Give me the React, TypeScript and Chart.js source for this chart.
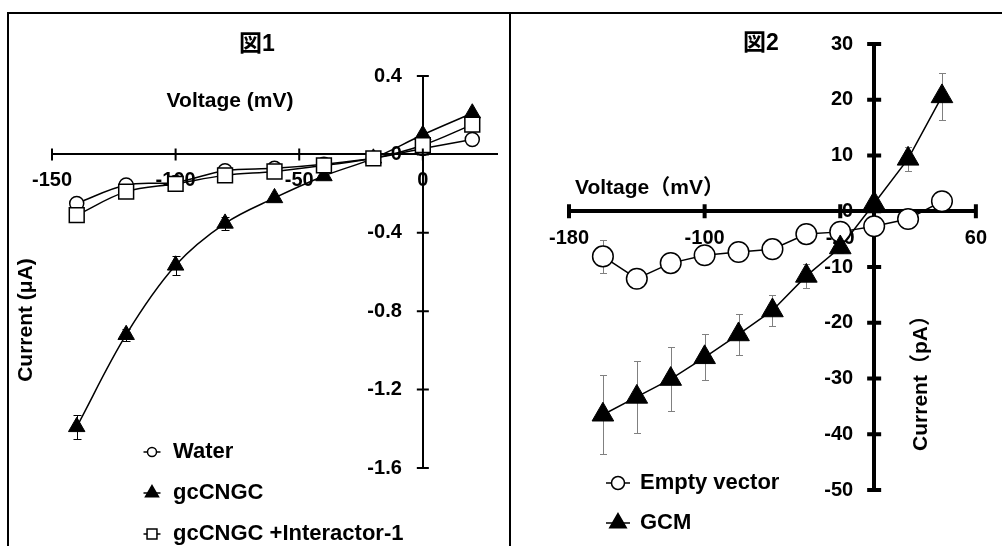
import React, { useEffect, useRef } from 'react';
import { Chart, registerables } from 'chart.js';

Chart.register(...registerables);

// ---------- Figure 1 data ----------
const leftVoltage = [-140, -120, -100, -80, -60, -40, -20, 0, 20];
const waterCurrent = [-0.25, -0.156, -0.143, -0.083, -0.071, -0.05, -0.02, 0.03, 0.076];
const gcCngcCurrent = [-1.39, -0.92, -0.566, -0.352, -0.222, -0.11, -0.02, 0.1, 0.21];
const gcCngcError = [0.06, 0.03, 0.05, 0.035, 0.015, 0.01, 0.01, 0.01, 0.01];
const interactorCurrent = [-0.31, -0.19, -0.15, -0.107, -0.087, -0.056, -0.02, 0.047, 0.152];
const leftXTicks = [-150, -100, -50, 0];
const leftYTicks = [-1.6, -1.2, -0.8, -0.4, 0, 0.4];

// ---------- Figure 2 data ----------
const rightVoltage = [-160, -140, -120, -100, -80, -60, -40, -20, 0, 20, 40];
const emptyVectorCurrent = [-8.1, -12.1, -9.3, -7.9, -7.3, -6.8, -4.1, -3.7, -2.7, -1.4, 1.8];
const emptyVectorError = [3.0, 0.8, 0.8, 0.8, 0.8, 0.8, 0.8, 0.8, 0.8, 0.8, 0.8];
const gcmCurrent = [-36.5, -33.3, -30.1, -26.2, -22.1, -17.8, -11.6, -6.5, 1.4, 9.4, 20.6];
const gcmError = [7.1, 6.4, 5.7, 4.1, 3.6, 2.8, 2.2, 1.0, 0.8, 2.2, 4.2];
const rightXTicks = [-180, -100, -20, 60];
const rightYTicks = [-50, -40, -30, -20, -10, 0, 10, 20, 30];

const FONT = '"Liberation Sans", Arial, "Noto Sans CJK JP", sans-serif';
const TICK_SIZE = 20;

const toPts = (xs: number[], ys: number[]) => xs.map((x, i) => ({ x, y: ys[i] }));

type Txt = { text: string; x: number; y: number; size: number; align?: CanvasTextAlign; rotate?: boolean };
type Leg = { x: number; half: number; textX: number; ys: number[]; radii: number[]; order: number[]; size: number };
type DecorCfg = { texts: Txt[]; legend: Leg; tickHalf: number; tickWidth: number; errorColor: string; cap: number; yGap: number };

function drawMarker(ctx: CanvasRenderingContext2D, style: string, x: number, y: number, r: number, fill: string) {
  ctx.beginPath();
  if (style === 'circle') {
    ctx.arc(x, y, r, 0, Math.PI * 2);
  } else if (style === 'triangle') {
    ctx.moveTo(x, y - r);
    ctx.lineTo(x + r * 0.866, y + r / 2);
    ctx.lineTo(x - r * 0.866, y + r / 2);
    ctx.closePath();
  } else {
    const s = r * Math.SQRT1_2;
    ctx.rect(x - s, y - s, 2 * s, 2 * s);
  }
  ctx.fillStyle = fill;
  ctx.fill();
  ctx.stroke();
}

function makeDecor(cfg: DecorCfg) {
  return {
    id: 'decor',
    beforeDatasetsDraw(chart: any) {
      const ctx: CanvasRenderingContext2D = chart.ctx;
      const xs = chart.scales.x;
      const ys = chart.scales.y;
      ctx.save();
      ctx.strokeStyle = cfg.errorColor;
      ctx.lineWidth = 1;
      chart.data.datasets.forEach((ds: any) => {
        if (!ds.errors) return;
        ds.data.forEach((p: any, i: number) => {
          const e = ds.errors[i];
          if (!e) return;
          const px = Math.round(xs.getPixelForValue(p.x)) + 0.5;
          const t = Math.round(ys.getPixelForValue(p.y + e)) + 0.5;
          const b = Math.round(ys.getPixelForValue(p.y - e)) + 0.5;
          ctx.beginPath();
          ctx.moveTo(px, t);
          ctx.lineTo(px, b);
          ctx.moveTo(px - cfg.cap, t);
          ctx.lineTo(px + cfg.cap, t);
          ctx.moveTo(px - cfg.cap, b);
          ctx.lineTo(px + cfg.cap, b);
          ctx.stroke();
        });
      });
      ctx.restore();
    },
    afterDraw(chart: any) {
      const ctx: CanvasRenderingContext2D = chart.ctx;
      const xs = chart.scales.x;
      const ys = chart.scales.y;
      const x0 = xs.getPixelForValue(0);
      const y0 = ys.getPixelForValue(0);
      ctx.save();
      // crossing tick marks
      ctx.strokeStyle = '#000';
      ctx.lineWidth = cfg.tickWidth;
      ctx.beginPath();
      xs.ticks.forEach((t: any) => {
        const px = xs.getPixelForValue(t.value);
        ctx.moveTo(px, y0 - cfg.tickHalf);
        ctx.lineTo(px, y0 + cfg.tickHalf);
      });
      ys.ticks.forEach((t: any) => {
        const py = ys.getPixelForValue(t.value);
        ctx.moveTo(x0 - cfg.tickHalf, py);
        ctx.lineTo(x0 + cfg.tickHalf, py);
      });
      ctx.stroke();
      // y tick labels, on the left side of the value axis
      ctx.fillStyle = '#000';
      ctx.font = `bold ${TICK_SIZE}px ${FONT}`;
      ctx.textAlign = 'right';
      ctx.textBaseline = 'middle';
      ys.ticks.forEach((t: any) => {
        const label = t.label !== undefined && t.label !== '' ? String(t.label) : String(t.value);
        ctx.fillText(label, x0 - cfg.yGap, ys.getPixelForValue(t.value));
      });
      // texts
      cfg.texts.forEach((t) => {
        ctx.font = `bold ${t.size}px ${FONT}`;
        ctx.textAlign = t.align || 'center';
        ctx.textBaseline = 'middle';
        if (t.rotate) {
          ctx.save();
          ctx.translate(t.x, t.y);
          ctx.rotate(-Math.PI / 2);
          ctx.fillText(t.text, 0, 0);
          ctx.restore();
        } else {
          ctx.fillText(t.text, t.x, t.y);
        }
      });
      // legend
      const L = cfg.legend;
      L.order.forEach((di, k) => {
        const ds = chart.data.datasets[di];
        const y = L.ys[k];
        ctx.strokeStyle = '#000';
        ctx.lineWidth = 1.5;
        ctx.beginPath();
        ctx.moveTo(L.x - L.half, y);
        ctx.lineTo(L.x + L.half, y);
        ctx.stroke();
        drawMarker(ctx, ds.pointStyle, L.x, y, L.radii[k], ds.pointBackgroundColor);
        ctx.fillStyle = '#000';
        ctx.font = `bold ${L.size}px ${FONT}`;
        ctx.textAlign = 'left';
        ctx.textBaseline = 'middle';
        ctx.fillText(ds.label, L.textX, y);
      });
      ctx.restore();
    },
  };
}

function scalesFor(p: {
  xMin: number; xMax: number; yMin: number; yMax: number;
  xTicks: number[]; yTicks: number[]; border: number; xPad: number;
}) {
  const font = { family: FONT, size: TICK_SIZE, weight: 'bold' as const };
  return {
    x: {
      type: 'linear' as const,
      min: p.xMin,
      max: p.xMax,
      position: { y: 0 },
      afterBuildTicks: (s: any) => { s.ticks = p.xTicks.map((v) => ({ value: v })); },
      afterFit: (s: any) => { s.height = 0; },
      grid: { drawOnChartArea: false, drawTicks: false },
      border: { color: '#000', width: p.border },
      ticks: { color: '#000', font, padding: p.xPad, autoSkip: false, maxRotation: 0, callback: (v: any) => String(v) },
    },
    y: {
      type: 'linear' as const,
      min: p.yMin,
      max: p.yMax,
      position: { x: 0 },
      afterBuildTicks: (s: any) => { s.ticks = p.yTicks.map((v) => ({ value: v })); },
      afterFit: (s: any) => { s.width = 0; },
      grid: { drawOnChartArea: false, drawTicks: false },
      border: { color: '#000', width: p.border },
      ticks: { display: false, color: '#000', font, autoSkip: false, callback: (v: any) => String(v) },
    },
  };
}

function leftConfig(): any {
  return {
    type: 'scatter',
    data: {
      datasets: [
        {
          label: 'Water', data: toPts(leftVoltage, waterCurrent), showLine: true,
          pointStyle: 'circle', pointRadius: 7, pointBackgroundColor: '#fff', pointBorderColor: '#000', pointBorderWidth: 1.5,
          borderColor: '#000', borderWidth: 1.5, tension: 0.35, order: 2, clip: false,
        },
        {
          label: 'gcCNGC', data: toPts(leftVoltage, gcCngcCurrent), showLine: true, errors: gcCngcError,
          pointStyle: 'triangle', pointRadius: 9.5, pointBackgroundColor: '#000', pointBorderColor: '#000', pointBorderWidth: 1,
          borderColor: '#000', borderWidth: 1.5, tension: 0.35, order: 1, clip: false,
        },
        {
          label: 'gcCNGC +Interactor-1', data: toPts(leftVoltage, interactorCurrent), showLine: true,
          pointStyle: 'rect', pointRadius: 10.5, pointBackgroundColor: '#fff', pointBorderColor: '#000', pointBorderWidth: 1.5,
          borderColor: '#000', borderWidth: 1.5, tension: 0.35, order: 0, clip: false,
        },
      ],
    },
    options: {
      responsive: false,
      animation: false,
      events: [],
      devicePixelRatio: 1,
      layout: { padding: { left: 52, right: 7, top: 76, bottom: 78 } },
      plugins: { legend: { display: false }, tooltip: { enabled: false } },
      scales: scalesFor({ xMin: -150, xMax: 30, yMin: -1.6, yMax: 0.4, xTicks: leftXTicks, yTicks: leftYTicks, border: 2, xPad: 14 }),
    },
    plugins: [
      makeDecor({
        texts: [
          { text: '図1', x: 257, y: 45, size: 23 },
          { text: 'Voltage (mV)', x: 230, y: 101, size: 21 },
          { text: 'Current (μA)', x: 26, y: 320, size: 21, rotate: true },
        ],
        legend: { x: 152, half: 8.5, textX: 173, ys: [452, 493, 534], radii: [4.5, 7.5, 7], order: [0, 1, 2], size: 22 },
        tickHalf: 6, tickWidth: 2, errorColor: '#000', cap: 4, yGap: 21,
      }),
    ],
  };
}

function rightConfig(): any {
  return {
    type: 'scatter',
    data: {
      datasets: [
        {
          label: 'Empty vector', data: toPts(rightVoltage, emptyVectorCurrent), showLine: true, errors: emptyVectorError,
          pointStyle: 'circle', pointRadius: 10.3, pointBackgroundColor: '#fff', pointBorderColor: '#000', pointBorderWidth: 1.5,
          borderColor: '#000', borderWidth: 1.5, tension: 0, order: 1, clip: false,
        },
        {
          label: 'GCM', data: toPts(rightVoltage, gcmCurrent), showLine: true, errors: gcmError,
          pointStyle: 'triangle', pointRadius: 12.5, pointBackgroundColor: '#000', pointBorderColor: '#000', pointBorderWidth: 1,
          borderColor: '#000', borderWidth: 1.5, tension: 0, order: 0, clip: false,
        },
      ],
    },
    options: {
      responsive: false,
      animation: false,
      events: [],
      devicePixelRatio: 1,
      layout: { padding: { left: 58, right: 14, top: 44, bottom: 56 } },
      plugins: { legend: { display: false }, tooltip: { enabled: false } },
      scales: scalesFor({ xMin: -180, xMax: 60, yMin: -50, yMax: 30, xTicks: rightXTicks, yTicks: rightYTicks, border: 4, xPad: 15 }),
    },
    plugins: [
      makeDecor({
        texts: [
          { text: '図2', x: 250, y: 44, size: 23 },
          { text: 'Voltage（mV）', x: 64, y: 188, size: 21, align: 'left' },
          { text: 'Current（pA）', x: 410, y: 378, size: 21, rotate: true },
        ],
        legend: { x: 107, half: 12, textX: 129, ys: [483, 523], radii: [6.5, 9.5], order: [0, 1], size: 22 },
        tickHalf: 7, tickWidth: 4, errorColor: '#808080', cap: 3.5, yGap: 21,
      }),
    ],
  };
}

function ChartCanvas({ left, width, height, make }: { left: number; width: number; height: number; make: () => any }) {
  const ref = useRef<HTMLCanvasElement>(null);
  useEffect(() => {
    const chart = new Chart(ref.current as HTMLCanvasElement, make());
    return () => chart.destroy();
  }, []);
  return (
    <canvas
      ref={ref}
      width={width}
      height={height}
      style={{ position: 'absolute', left, top: 0, width, height, display: 'block' }}
    />
  );
}

export default function App() {
  const line = (s: React.CSSProperties) => <div style={{ position: 'absolute', background: '#000', ...s }} />;
  return (
    <div style={{ position: 'fixed', left: 0, top: 0, width: 1002, height: 546, background: '#fff', overflow: 'hidden' }}>
      <ChartCanvas left={0} width={509} height={546} make={leftConfig} />
      <ChartCanvas left={511} width={491} height={546} make={rightConfig} />
      {line({ left: 7, top: 12, width: 995, height: 2 })}
      {line({ left: 7, top: 12, width: 2, height: 534 })}
      {line({ left: 509, top: 12, width: 2, height: 534 })}
    </div>
  );
}
